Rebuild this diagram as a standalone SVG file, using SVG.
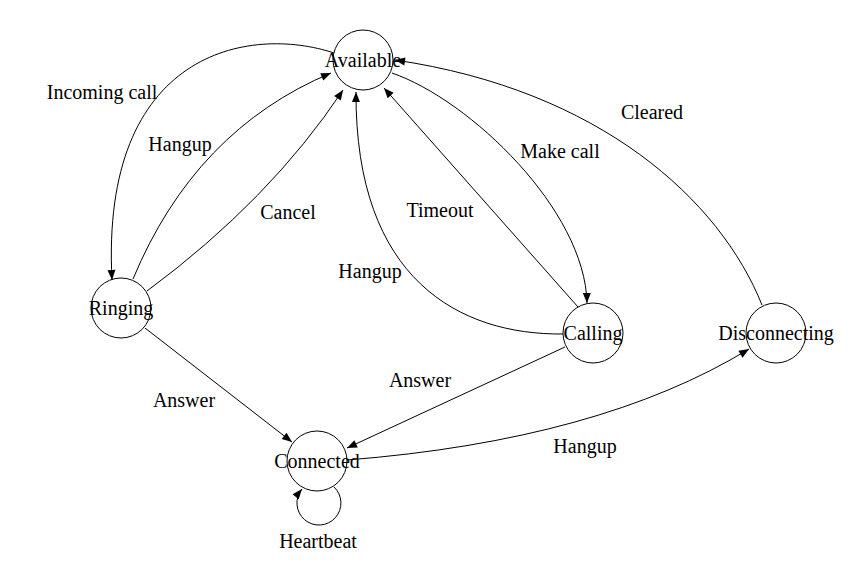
<svg xmlns="http://www.w3.org/2000/svg" width="863" height="571" viewBox="0 0 863 571">
<style>
.edge{fill:none;stroke:#000;stroke-width:1;marker-end:url(#arr)}
.node circle{fill:#fff;stroke:#000;stroke-width:1}
text{font-family:"Liberation Serif","Times New Roman",serif;font-size:20px;fill:#000;text-anchor:middle}
</style>
<defs>
<marker id="arr" markerUnits="userSpaceOnUse" markerWidth="11" markerHeight="9" refX="10" refY="4" orient="auto" overflow="visible">
<path d="M0,0 L10,4 L0,8 z" fill="#000"/>
</marker>
</defs>
<rect width="863" height="571" fill="#fff"/>
<g id="connectors">
<path class="edge" d="M334,53 C250,25 100,50 112,280"/>
<path class="edge" d="M133,279 Q195,130 331,73"/>
<path class="edge" d="M147,291 Q270,200 343,90"/>
<path class="edge" d="M392,73 C470,100 585,210 587,303"/>
<path class="edge" d="M578,307 L384,88"/>
<path class="edge" d="M563,334 C460,335 355,280 356,92"/>
<path class="edge" d="M762,305 C720,200 600,90 395,60"/>
<path class="edge" d="M145,328 L292,442"/>
<path class="edge" d="M565,347 L347,448"/>
<path class="edge" d="M347,460 Q600,440 749,349"/>
<path class="edge" d="M334,487 A22,22 0 1 1 302,489"/>
<text x="102" y="99">Incoming call</text>
<text x="180" y="151">Hangup</text>
<text x="288" y="219">Cancel</text>
<text x="560" y="158">Make call</text>
<text x="440" y="217">Timeout</text>
<text x="370" y="278">Hangup</text>
<text x="652" y="119">Cleared</text>
<text x="184" y="407">Answer</text>
<text x="420" y="387">Answer</text>
<text x="585" y="453">Hangup</text>
<text x="318" y="548">Heartbeat</text>
</g>
<g id="available" class="node"><circle cx="363" cy="60" r="30" style="fill:none"/><text x="363" y="67">Available</text></g>
<g id="ringing" class="node"><circle cx="121" cy="308" r="30" style="fill:none"/><text x="121" y="315">Ringing</text></g>
<g id="calling" class="node"><circle cx="593" cy="333" r="30" style="fill:none"/><text x="593" y="340">Calling</text></g>
<g id="disconnecting" class="node"><circle cx="776" cy="333" r="30" style="fill:none"/><text x="776" y="340">Disconnecting</text></g>
<g id="connected" class="node"><circle cx="317" cy="461" r="30" style="fill:none"/><text x="317" y="468">Connected</text></g>
</svg>
